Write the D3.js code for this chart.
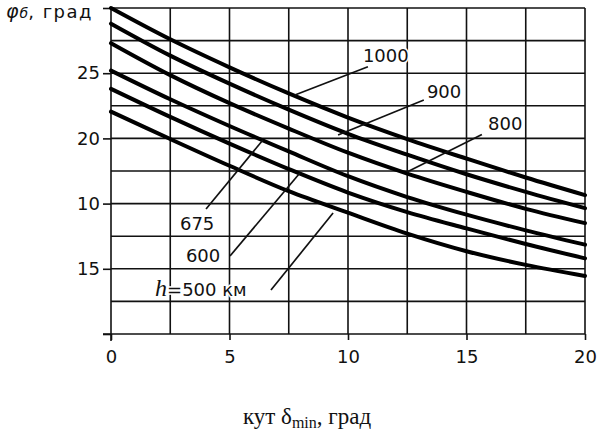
<!DOCTYPE html>
<html><head><meta charset="utf-8">
<script src="https://cdn.jsdelivr.net/npm/d3@7"></script>
<style>body{margin:0;background:#fff}svg{display:block}</style>
</head><body>
<svg id="chart" width="600" height="432"></svg>
<script>
// ---- data ----
const xValues = [0, 2.5, 5, 7.5, 10, 12.5, 15, 17.5, 20];
const seriesNames = ["1000", "900", "800", "675", "600", "500"];
const h1000 = [30.0, 27.6, 25.45, 23.45, 21.6, 19.95, 18.45, 17.0, 15.65];
const h900  = [28.8, 26.35, 24.2, 22.2, 20.35, 18.75, 17.25, 15.9, 14.65];
const h800  = [27.3, 24.85, 22.7, 20.75, 18.9, 17.3, 15.9, 14.6, 13.5];
const h675  = [25.2, 23.0, 20.95, 19.0, 17.1, 15.5, 14.15, 12.95, 11.85];
const h600  = [23.8, 21.65, 19.6, 17.65, 15.85, 14.35, 13.1, 11.9, 10.8];
const h500  = [22.05, 19.95, 17.9, 15.95, 14.3, 12.7, 11.35, 10.3, 9.45];
const seriesValues = [h1000, h900, h800, h675, h600, h500];
const xTickValues = [0, 5, 10, 15, 20];
const xTickLabels = ["0", "5", "10", "15", "20"];
const yTickValues = [5, 10, 15, 20, 25, 30];
const yTickLabels = ["", "15", "10", "20", "25", ""];
const yTitle = ["φ", "б", ", град"];
const xTitle = ["кут δ", "min", ", град"];

// ---- annotation placement (data coordinates) ----
const labelDefs = [
  {text: "1000", tx: 10.63, ty: 25.86, x1: 10.84, y1: 25.5, x2: 7.76, y2: 23.33},
  {text: "900",  tx: 13.33, ty: 23.1,  x1: 13.2,  y1: 22.95, x2: 9.58, y2: 20.26},
  {text: "800",  tx: 15.91, ty: 20.64, x1: 15.65, y1: 20.3, x2: 12.49, y2: 17.42},
  {text: "675",  tx: 2.91,  ty: 12.98, x1: 4.01,  y1: 14.59, x2: 6.41, y2: 19.88},
  {text: "600",  tx: 3.16,  ty: 10.52, x1: 5.02,  y1: 10.98, x2: 7.97, y2: 17.35},
  {text: "500",  tx: 1.86,  ty: 7.91,  x1: 6.75,  y1: 8.37,  x2: 9.37, y2: 14.28}
];

const svg = d3.select("#chart");
const x = d3.scaleLinear().domain([0, 20]).range([111, 585]);
const y = d3.scaleLinear().domain([5, 30]).range([334, 8]);
const ink = "#111";

// grid
const grid = svg.append("g").attr("stroke", ink).attr("stroke-width", 1.6);
grid.selectAll("line.v").data(d3.range(0, 20.001, 2.5)).join("line")
  .attr("x1", d => x(d)).attr("x2", d => x(d))
  .attr("y1", y(30)).attr("y2", d => d === 0 ? y(5) + 7 : y(5));
grid.selectAll("line.h").data(d3.range(5, 30.001, 2.5)).join("line")
  .attr("x1", d => d === 5 ? x(0) - 8 : x(0)).attr("x2", x(20))
  .attr("y1", d => y(d)).attr("y2", d => y(d));

// axes
const font = "'DejaVu Sans', 'Liberation Sans', Arial, sans-serif";
const yAxis = svg.append("g").attr("transform", `translate(${x(0)},0)`)
  .call(d3.axisLeft(y).tickValues(yTickValues)
    .tickFormat((d, i) => yTickLabels[i]).tickSize(8).tickPadding(3));
yAxis.select(".domain").remove();
yAxis.selectAll(".tick line").attr("stroke", ink).attr("stroke-width", 1.6);
yAxis.selectAll("text").attr("font-family", font).attr("font-size", 18).attr("fill", ink);

const xAxis = svg.append("g").attr("transform", `translate(0,${y(5)})`)
  .call(d3.axisBottom(x).tickValues(xTickValues)
    .tickFormat((d, i) => xTickLabels[i]).tickSize(6));
xAxis.select(".domain").remove();
xAxis.selectAll(".tick line").attr("stroke", ink).attr("stroke-width", 1.6);
xAxis.selectAll("text").attr("font-family", font).attr("font-size", 18).attr("fill", ink)
  .attr("y", 29).attr("dy", null);

// curves
const line = d3.line().x((d, i) => x(xValues[i])).y(d => y(d)).curve(d3.curveCatmullRom.alpha(0.5));
svg.append("g").selectAll("path").data(seriesValues).join("path")
  .attr("d", line).attr("fill", "none").attr("stroke", "#000")
  .attr("stroke-width", 4).attr("stroke-linecap", "round");

// leader lines
svg.append("g").selectAll("line").data(labelDefs).join("line")
  .attr("x1", d => x(d.x1)).attr("y1", d => y(d.y1))
  .attr("x2", d => x(d.x2)).attr("y2", d => y(d.y2))
  .attr("stroke", ink).attr("stroke-width", 1.7);

// labels
const lab = svg.append("g").selectAll("text").data(labelDefs).join("text")
  .attr("x", d => x(d.tx)).attr("y", d => y(d.ty))
  .attr("font-family", font).attr("font-size", 18).attr("fill", ink)
  .attr("stroke", "#fff").attr("stroke-width", 3).attr("paint-order", "stroke");
lab.each(function(d) {
  const t = d3.select(this);
  if (d.text === "500") {
    t.append("tspan").attr("font-family", "'Liberation Serif', 'Times New Roman', serif")
      .attr("font-style", "italic").attr("font-size", 24).text("h");
    t.append("tspan").text("=500 км");
  } else {
    t.text(d.text);
  }
});

// y title
const yt = svg.append("text").attr("x", 6).attr("y", 18)
  .attr("font-family", font).attr("fill", ink);
yt.append("tspan").attr("font-style", "italic").attr("font-size", 19).text(yTitle[0]);
yt.append("tspan").attr("font-style", "italic").attr("font-size", 14).attr("dx", 1).text(yTitle[1]);
yt.append("tspan").attr("font-size", 18).attr("letter-spacing", 1.5).text(yTitle[2]);

// x title
const xt = svg.append("text").attr("x", 307).attr("y", 424).attr("text-anchor", "middle")
  .attr("font-family", "'Liberation Serif', 'Times New Roman', serif").attr("font-size", 23).attr("fill", ink);
xt.append("tspan").text(xTitle[0]);
xt.append("tspan").attr("font-size", 16).attr("dy", 4).text(xTitle[1]);
xt.append("tspan").attr("dy", -4).text(xTitle[2]);
</script>
</body></html>
